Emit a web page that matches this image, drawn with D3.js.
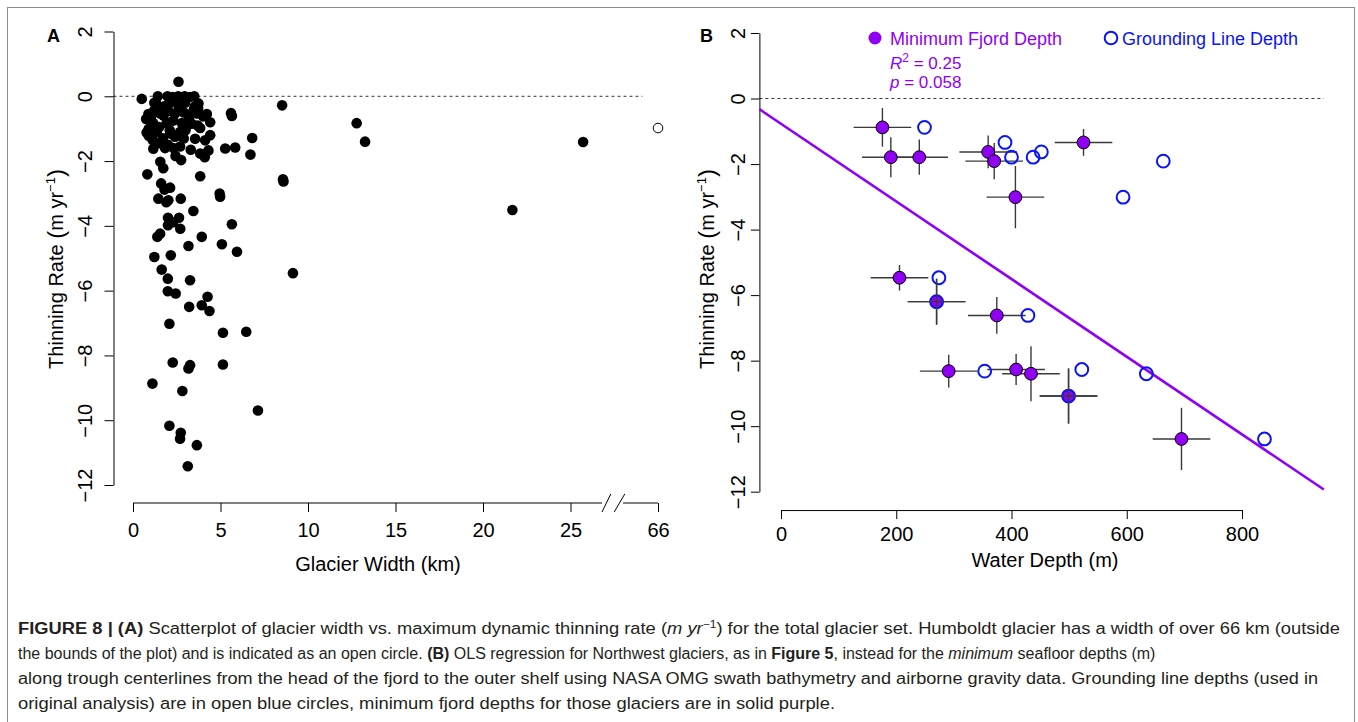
<!DOCTYPE html>
<html><head><meta charset="utf-8">
<script src="https://cdn.jsdelivr.net/npm/d3@7"></script>
<style>
body{margin:0;background:#fff}
svg{display:block}
text{font-family:"Liberation Sans",Arial,Helvetica,sans-serif}
</style>
</head><body>
<svg id="c" width="1358" height="722"></svg>
<script>
// ---------------- Panel A data ----------------
const widthKm = [2.6,0.5,1.42,1.97,2.58,2.95,3.5,2.25,3.25,
 1.22,1.36,2.12,2.98,3.74,2.42,3.52,3.72,1.82,2.62,1.32,
 0.88,1.55,2.4,3.65,4.22,4.41,1.2,2.02,2.9,3.2,0.75,1.02,4.0,3.45,1.75,
 1.16,1.93,2.79,3.36,3.84,1.5,2.3,3.02,0.9,2.1,3.7,
 0.78,1.36,2.12,2.69,3.55,4.12,4.41,0.9,1.7,2.4,3.0,1.12,2.9,0.95,
 1.16,1.83,2.31,2.69,3.3,3.84,4.1,4.31,5.27,5.84,1.5,2.0,2.43,2.75,1.56,1.73,
 8.52,5.6,5.65,12.78,13.26,6.81,6.71,25.72,8.57,8.6,21.68,9.14,
 0.82,3.84,1.61,1.8,2.12,4.95,4.98,1.45,2.02,2.73,1.9,3.45,2.0,2.63,2.3,2.0,2.7,5.65,
 1.55,1.39,3.93,3.17,5.08,5.94,1.22,2.16,1.64,1.99,3.26,1.99,2.44,4.26,3.93,4.37,3.21,
 2.08,5.14,6.47,2.27,3.26,3.17,5.14,1.11,2.82,2.08,2.73,2.69,3.65,3.13,7.14];
const thinA = [0.45,-0.08,0,0,0,0,0,-0.02,-0.02,
 -0.2,-0.25,-0.2,-0.2,-0.22,-0.15,-0.32,-0.38,-0.3,-0.35,-0.38,
 -0.55,-0.53,-0.53,-0.53,-0.55,-0.8,-0.45,-0.45,-0.5,-0.65,-0.7,-0.65,-0.62,-0.45,-0.6,
 -0.83,-0.83,-0.83,-0.85,-0.98,-0.95,-0.75,-0.95,-1.0,-1.05,-0.9,
 -1.12,-1.1,-1.15,-1.1,-1.31,-1.36,-1.2,-1.22,-1.3,-1.25,-1.05,-1.35,-1.3,-1.18,
 -1.62,-1.6,-1.6,-1.55,-1.65,-1.77,-1.88,-1.67,-1.61,-1.58,-1.45,-1.5,-1.84,-1.97,-2.02,-2.22,
 -0.28,-0.52,-0.61,-0.83,-1.40,-1.29,-1.80,-1.41,-2.56,-2.63,-3.51,-5.46,
 -2.41,-2.47,-2.69,-2.88,-2.82,-3.0,-3.1,-3.16,-3.21,-3.16,-3.27,-3.54,-3.75,-3.75,-3.89,-3.98,-4.09,-3.95,
 -4.24,-4.34,-4.34,-4.62,-4.57,-4.8,-4.96,-4.91,-5.35,-5.63,-5.68,-6.02,-6.09,-6.19,-6.45,-6.63,-6.5,
 -7.02,-7.3,-7.27,-8.22,-8.3,-8.4,-8.28,-8.87,-9.1,-10.17,-10.39,-10.57,-10.77,-11.42,-9.7];
const humboldtX = [30];      // drawn at the "66" tick position
const humboldtRate = [-0.98];
const xTicksA = [0,5,10,15,20,25,30];
const xTickLabelsA = ["0","5","10","15","20","25","66"];
const yTicks = [2,0,-2,-4,-6,-8,-10,-12];

// ---------------- Panel B data ----------------
const fjordDepth  = [176,190.6,240,359.5,370,406.8,525,205.6,270,374.5,291,408,433.8,499,695];
const groundDepth = [249,400,437.5,451.8,663.4,593.6,388.7,274,270,428.5,353.5,522,634,499,839];
const rateB       = [-0.88,-1.79,-1.79,-1.63,-1.91,-3.01,-1.34,-5.47,-6.2,-6.62,-8.32,-8.27,-8.4,-9.08,-10.39];
const rateErr     = [0.59,0.61,0.54,0.5,0.55,0.95,0.41,0.39,0.7,0.56,0.5,0.47,0.84,0.84,0.95];
const depthErr    = [50,50,50,50,50,50,50,50,50,50,50,50,50,50,50];
const regIntercept = -0.77, regSlope = -0.01185;
const xTicksB = [0,200,400,600,800];
const legendLabels = ["Minimum Fjord Depth","Grounding Line Depth"];
const statsR2 = "0.25", statsP = "0.058";

const PURPLE = "#8f00f5", BLUE = "#0a14f5";
const fmtNum = d => (d < 0 ? "\u2212" + Math.abs(d) : String(d));

const svg = d3.select("#c");

svg.append("rect").attr("x",7.5).attr("y",7.5).attr("width",1347).attr("height",740)
  .attr("fill","none").attr("stroke","#8c8c8c").attr("stroke-width",1);

// ================= Panel A =================
const xA = d3.scaleLinear().domain([0,30]).range([133,658]);
const yA = d3.scaleLinear().domain([2,-12]).range([31.5,485]);
const axAx = 113.5, axAy = 503;
const gA = svg.append("g");

gA.append("line").attr("x1",axAx).attr("x2",xA(29.1)).attr("y1",yA(0)).attr("y2",yA(0))
  .attr("stroke","#333").attr("stroke-dasharray","3,3").attr("stroke-width",1);

const yAxisA = gA.append("g").attr("transform",`translate(${axAx},0)`)
  .call(d3.axisLeft(yA).tickValues(yTicks).tickSize(9).tickSizeOuter(0).tickFormat(fmtNum));
yAxisA.selectAll("text").attr("x",0).attr("dy","0.35em").attr("text-anchor","middle")
  .attr("transform","translate(-28.5,0) rotate(-90)");

const xAxisA = gA.append("g").attr("transform",`translate(0,${axAy})`)
  .call(d3.axisBottom(xA).tickValues(xTicksA).tickSize(9).tickFormat((d,i)=>xTickLabelsA[i]));
xAxisA.select(".domain").remove();
xAxisA.selectAll("text").attr("y",20).attr("dy","0.71em");
gA.append("line").attr("x1",xA(0)).attr("x2",xA(26.8)).attr("y1",axAy).attr("y2",axAy).attr("stroke","#000");
gA.append("line").attr("x1",xA(28.0)).attr("x2",xA(30)).attr("y1",axAy).attr("y2",axAy).attr("stroke","#000");
[[26.8,27.3],[27.5,28.1]].forEach(([a,b])=>{
  gA.append("line").attr("x1",xA(a)).attr("x2",xA(b)).attr("y1",axAy+9).attr("y2",axAy-9)
    .attr("stroke","#000").attr("stroke-width",1);
});

gA.append("g").selectAll("circle").data(widthKm).join("circle")
  .attr("cx",d=>xA(d)).attr("cy",(d,i)=>yA(thinA[i])).attr("r",5.3).attr("fill","#000");
gA.append("g").selectAll("circle").data(humboldtX).join("circle")
  .attr("cx",d=>xA(d)).attr("cy",(d,i)=>yA(humboldtRate[i])).attr("r",4.8)
  .attr("fill","none").attr("stroke","#000").attr("stroke-width",1);

gA.append("text").attr("x",378).attr("y",571).attr("text-anchor","middle").attr("font-size",20).text("Glacier Width (km)");
function yTitle(g, x){
  const t = g.append("text").attr("transform",`translate(${x},269) rotate(-90)`)
    .attr("text-anchor","middle").attr("font-size",20);
  t.append("tspan").text("Thinning Rate ");
  t.append("tspan").attr("font-size",24).attr("dy",1).text("(");
  t.append("tspan").attr("dy",-1).text("m yr");
  t.append("tspan").attr("font-size",13).attr("dy",-8).text("\u22121");
  t.append("tspan").attr("font-size",24).attr("dy",9).text(")");
}
yTitle(gA, 63);
gA.append("text").attr("x",47).attr("y",42).attr("font-size",18).attr("font-weight","bold").text("A");

// ================= Panel B =================
const xB = d3.scaleLinear().domain([0,800]).range([781,1242]);
const yB = d3.scaleLinear().domain([2,-12]).range([33,491.7]);
const plotXB = [-37.5, 942];
const axBy = yB(-12.56);
const gB = svg.append("g");

gB.append("line").attr("x1",xB(plotXB[0])).attr("x2",xB(plotXB[1])).attr("y1",yB(0)).attr("y2",yB(0))
  .attr("stroke","#333").attr("stroke-dasharray","3,3").attr("stroke-width",1);

const yAxisB = gB.append("g").attr("transform",`translate(${xB(plotXB[0])},0)`)
  .call(d3.axisLeft(yB).tickValues(yTicks).tickSize(8.5).tickSizeOuter(0).tickFormat(fmtNum));
yAxisB.selectAll("text").attr("x",0).attr("dy","0.35em").attr("text-anchor","middle")
  .attr("transform","translate(-21,0) rotate(-90)");

const xAxisB = gB.append("g").attr("transform",`translate(0,${axBy})`)
  .call(d3.axisBottom(xB).tickValues(xTicksB).tickSize(9).tickSizeOuter(0));
xAxisB.selectAll("text").attr("y",16.5).attr("dy","0.71em");

gB.append("line")
  .attr("x1",xB(plotXB[0])).attr("y1",yB(regIntercept+regSlope*plotXB[0]))
  .attr("x2",xB(plotXB[1])).attr("y2",yB(regIntercept+regSlope*plotXB[1]))
  .attr("stroke",PURPLE).attr("stroke-width",2.6);

function errBars(g, idx){
  const eb = g.append("g").attr("stroke","#3a3a3a").attr("stroke-width",1.4);
  idx.forEach(i=>{
    eb.append("line").attr("x1",xB(fjordDepth[i]-depthErr[i])).attr("x2",xB(fjordDepth[i]+depthErr[i]))
      .attr("y1",yB(rateB[i])).attr("y2",yB(rateB[i]));
    eb.append("line").attr("x1",xB(fjordDepth[i])).attr("x2",xB(fjordDepth[i]))
      .attr("y1",yB(rateB[i]+rateErr[i])).attr("y2",yB(rateB[i]-rateErr[i]));
  });
}
errBars(gB, d3.range(fjordDepth.length));

gB.append("g").selectAll("circle").data(fjordDepth).join("circle")
  .attr("cx",d=>xB(d)).attr("cy",(d,i)=>yB(rateB[i])).attr("r",6.4)
  .attr("fill",PURPLE).attr("stroke","#000").attr("stroke-width",1);
gB.append("g").selectAll("circle").data(groundDepth).join("circle")
  .attr("cx",d=>xB(d)).attr("cy",(d,i)=>yB(rateB[i])).attr("r",6.4)
  .attr("fill","none").attr("stroke",BLUE).attr("stroke-width",2);
errBars(gB, d3.range(fjordDepth.length).filter(i=>fjordDepth[i]===groundDepth[i]));

gB.append("circle").attr("cx",875).attr("cy",38).attr("r",6.5).attr("fill",PURPLE);
gB.append("text").attr("x",890).attr("y",44.5).attr("font-size",18).attr("fill",PURPLE).text(legendLabels[0]);
gB.append("circle").attr("cx",1111).attr("cy",38).attr("r",6.3).attr("fill","none").attr("stroke",BLUE).attr("stroke-width",2);
gB.append("text").attr("x",1122).attr("y",44.5).attr("font-size",18).attr("fill",BLUE).text(legendLabels[1]);
const r2 = gB.append("text").attr("x",890).attr("y",69).attr("font-size",17).attr("fill",PURPLE);
r2.append("tspan").attr("font-style","italic").text("R");
r2.append("tspan").attr("font-size",12).attr("dy",-7).text("2");
r2.append("tspan").attr("dy",7).text(" = " + statsR2);
const pp = gB.append("text").attr("x",890).attr("y",88).attr("font-size",17).attr("fill",PURPLE);
pp.append("tspan").attr("font-style","italic").text("p");
pp.append("tspan").text(" = " + statsP);

gB.append("text").attr("x",1045).attr("y",567).attr("text-anchor","middle").attr("font-size",20).text("Water Depth (m)");
yTitle(gB, 714);
gB.append("text").attr("x",700).attr("y",42).attr("font-size",18).attr("font-weight","bold").text("B");

svg.selectAll(".tick text").attr("font-size",20).attr("fill","#000").attr("font-family","'Liberation Sans',Arial,sans-serif");
svg.selectAll(".tick line, .domain").attr("stroke","#000");

// ================= Caption =================
const captionLines = [
 [["FIGURE 8 | (A)","b"],[" Scatterplot of glacier width vs. maximum dynamic thinning rate ("],["m yr","i"],["\u22121","s"],[") for the total glacier set. Humboldt glacier has a width of over 66 km (outside"]],
 [["the bounds of the plot) and is indicated as an open circle. "],["(B)","b"],[" OLS regression for Northwest glaciers, as in "],["Figure 5","b"],[", instead for the "],["minimum","i"],[" seafloor depths (m)"]],
 [["along trough centerlines from the head of the fjord to the outer shelf using NASA OMG swath bathymetry and airborne gravity data. Grounding line depths (used in"]],
 [["original analysis) are in open blue circles, minimum fjord depths for those glaciers are in solid purple."]]
];
const captionWidths = [1322,null,1300,817];
const capY = [634,659,684,709];
captionLines.forEach((segs,li)=>{
  const t = svg.append("text").attr("x",18).attr("y",capY[li]).attr("font-size",16).attr("fill","#231f20");
  let raised = false;
  segs.forEach(([s,f])=>{
    const ts = t.append("tspan").text(s);
    if (f==="b") ts.attr("font-weight","bold");
    if (f==="i") ts.attr("font-style","italic");
    if (f==="s") { ts.attr("font-size",10.5).attr("dy",-6); raised = true; }
    else if (raised) { ts.attr("dy",6); raised = false; }
  });
  if (captionWidths[li]) t.attr("textLength",captionWidths[li]).attr("lengthAdjust","spacingAndGlyphs");
});
</script>
</body></html>
